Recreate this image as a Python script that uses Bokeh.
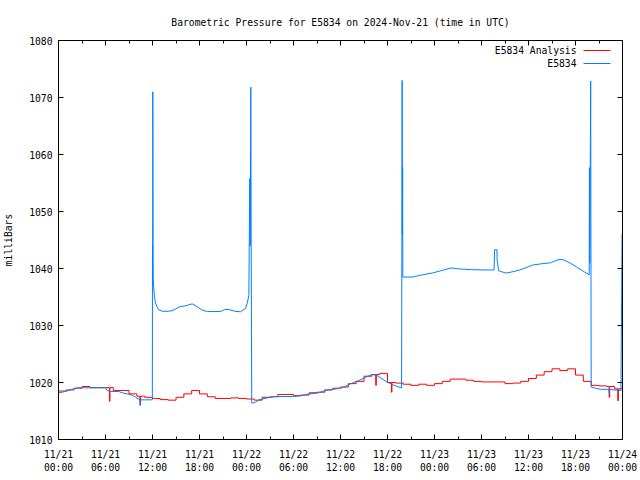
from bokeh.plotting import figure
from bokeh.models import Range1d, LinearAxis, FixedTicker, Label, BoxAnnotation
from bokeh.embed import file_html
from bokeh.resources import INLINE
import numpy as np

title_text = "Barometric Pressure for E5834 on 2024-Nov-21 (time in UTC)"
y_label = "milliBars"
series_names = ["E5834 Analysis", "E5834"]
series_colors = ["#ff0000", "#0080ff"]

x_tick_hours = [0, 6, 12, 18, 24, 30, 36, 42, 48, 54, 60, 66, 72]
x_minor_hours = [3, 9, 15, 21, 27, 33, 39, 45, 51, 57, 63, 69]
x_tick_labels = ["11/21\n00:00", "11/21\n06:00", "11/21\n12:00", "11/21\n18:00",
                 "11/22\n00:00", "11/22\n06:00", "11/22\n12:00", "11/22\n18:00",
                 "11/23\n00:00", "11/23\n06:00", "11/23\n12:00", "11/23\n18:00",
                 "11/24\n00:00"]
y_ticks = [1010, 1020, 1030, 1040, 1050, 1060, 1070, 1080]

# Analysis: hourly values (hours since 11/21 00:00 UTC)
analysis_hours = list(range(73))
analysis_mb = [1018.5, 1018.7, 1019.0, 1019.3, 1019.1, 1019.1, 1019.1, 1018.6, 1018.6, 1018.0,
               1017.6, 1017.4, 1017.2, 1017.0, 1016.9, 1017.4, 1018.0, 1018.6, 1018.0, 1017.5,
               1017.2, 1017.2, 1017.3, 1017.2, 1017.1, 1016.9, 1017.4, 1017.5, 1017.9, 1017.9,
               1017.7, 1017.8, 1018.2, 1018.3, 1018.7, 1019.0, 1019.2, 1019.8, 1020.2, 1021.1,
               1021.4, 1021.6, 1020.0, 1019.9, 1019.7, 1019.5, 1019.7, 1019.5, 1019.8, 1020.2,
               1020.6, 1020.6, 1020.4, 1020.2, 1020.1, 1020.1, 1020.1, 1019.8, 1019.9, 1020.2,
               1020.7, 1021.3, 1021.9, 1022.4, 1022.1, 1022.4, 1021.3, 1020.2, 1019.5, 1019.4,
               1019.3, 1018.9, 1018.7]
analysis_spike_hours = [6.5, 10.4, 40.5, 42.5, 70.3, 71.4]
analysis_spike_mb = [1016.7, 1016.0, 1019.5, 1018.3, 1017.4, 1016.8]

# Station observations
station_hours = [0.0, 0.47, 1.32, 1.96, 2.6, 3.87, 5.0, 6.0, 6.21, 6.64, 7.7, 8.13, 8.77, 9.4,
                 9.83, 10.17, 10.4, 10.45, 10.5, 10.6, 11.1, 11.98,
                 12.0, 12.02, 12.04, 12.08, 12.2, 12.35, 12.6, 12.8, 13.23, 14.0, 14.5, 14.94,
                 15.5, 16.2, 17.07, 17.7, 18.34, 19.0, 20.0, 20.68, 21.2, 21.75, 22.5, 23.23,
                 23.87, 24.1, 24.3, 24.42, 24.48, 24.55, 24.6, 24.67,
                 24.72, 25.15, 25.57, 26.64, 27.7, 28.77, 29.83, 30.89, 31.96, 33.02, 34.09,
                 35.15, 36.21, 37.28, 38.34, 39.4, 40.04, 40.68, 41.32, 41.96, 42.6, 43.23,
                 43.8, 43.87, 43.9, 43.93, 43.96,
                 45.2, 46.5, 47.7, 48.8, 50.1, 51.3, 52.6, 53.9, 55.6, 55.68, 55.97, 56.0,
                 56.2, 57.1, 57.9, 58.8, 59.6, 60.5, 61.5, 62.8, 63.9, 64.5, 65.4, 66.2, 66.9,
                 67.6, 67.75, 67.78, 67.82, 67.94, 68.0,
                 68.55, 69.19, 70.25, 70.3, 70.35, 71.5, 71.8, 71.95]
station_mb = [1018.2, 1018.3, 1018.6, 1018.9, 1019.07, 1019.07, 1019.07, 1019.07, 1018.6, 1018.42,
              1018.42, 1018.2, 1018.0, 1017.78, 1017.43, 1017.13, 1017.0, 1016.1, 1017.0, 1016.96,
              1016.96, 1016.96,
              1044.0, 1038.4, 1071.0, 1038.5, 1035.8, 1034.1, 1033.2, 1032.75, 1032.5, 1032.5,
              1032.6, 1032.9, 1033.3, 1033.45, 1033.8, 1033.3, 1032.7, 1032.45, 1032.45, 1032.45,
              1032.8, 1032.8, 1032.5, 1032.4, 1033.0, 1033.9, 1035.3, 1055.8, 1044.0, 1071.8,
              1044.0, 1016.4,
              1016.37, 1016.55, 1016.96, 1017.3, 1017.54, 1017.54, 1017.54, 1017.66, 1018.0,
              1018.13, 1018.6, 1018.8, 1019.07, 1019.77, 1020.35, 1021.05, 1021.4, 1021.23,
              1020.64, 1020.06, 1019.65, 1019.3,
              1019.07, 1073.0, 1046.0, 1057.8, 1038.5,
              1038.5, 1038.9, 1039.2, 1039.6, 1040.1, 1039.9, 1039.8, 1039.75, 1039.75, 1043.3,
              1043.3, 1041.4, 1039.6, 1039.2, 1039.4, 1039.7, 1040.1, 1040.6, 1040.8, 1041.0,
              1041.6, 1041.5, 1040.9, 1040.2, 1039.6, 1039.0, 1038.9, 1057.7, 1040.9, 1072.9,
              1019.2,
              1019.0, 1018.8, 1018.8, 1018.2, 1018.8, 1018.6, 1018.6, 1046.1]

FONT = "DejaVu Sans Mono"
FS = "9.7px"

# merge analysis spikes into the stepped series
ah = np.array(analysis_hours, dtype=float)
am = np.array(analysis_mb, dtype=float)
pts = list(zip(ah, am))
for t, lo in zip(analysis_spike_hours, analysis_spike_mb):
    base = am[np.searchsorted(ah, t, side="right") - 1]
    pts += [(t, lo), (t + 0.07, base)]
pts.sort(key=lambda q: q[0])
ax_x = [q[0] for q in pts]
ax_y = [q[1] for q in pts]

p = figure(width=640, height=480, output_backend="svg", toolbar_location=None,
           x_range=Range1d(0, 72), y_range=Range1d(1010, 1080),
           min_border_left=58, min_border_right=18, min_border_top=40, min_border_bottom=41,
           x_axis_location=None, y_axis_location=None, background_fill_color="white",
           border_fill_color="white")
p.xgrid.visible = False
p.ygrid.visible = False
p.outline_line_color = "black"
p.outline_line_width = 1

p.title.text = title_text
p.title.text_font = FONT
p.title.text_font_size = FS
p.title.text_font_style = "normal"
p.title.align = "center"
p.title.text_color = "black"
p.title.standoff = 26


def style(ax, show_labels, ticks):
    ax.axis_line_color = "black"
    ax.major_tick_line_color = "black"
    ax.minor_tick_line_color = "black"
    ax.major_tick_in = 5
    ax.major_tick_out = 0
    ax.minor_tick_in = 3
    ax.minor_tick_out = 0
    ax.major_label_text_font = FONT
    ax.major_label_text_font_size = FS
    ax.major_label_text_color = "black"
    ax.major_label_standoff = 6 if show_labels else 0
    if not show_labels:
        ax.major_label_overrides = {t: "" for t in ticks}


xticker = FixedTicker(ticks=x_tick_hours, minor_ticks=x_minor_hours)
yticker = FixedTicker(ticks=y_ticks, minor_ticks=[])

xb = LinearAxis(ticker=xticker)
style(xb, True, x_tick_hours)
xb.major_label_standoff = 9
xb.major_label_overrides = {h: lab for h, lab in zip(x_tick_hours, x_tick_labels)}
p.add_layout(xb, "below")

xt = LinearAxis(ticker=xticker)
style(xt, False, x_tick_hours)
p.add_layout(xt, "above")

yl = LinearAxis(ticker=yticker, axis_label=y_label)
style(yl, True, y_ticks)
yl.axis_label_text_font = FONT
yl.axis_label_text_font_size = FS
yl.axis_label_text_font_style = "normal"
yl.axis_label_text_color = "black"
yl.axis_label_standoff = 12
p.add_layout(yl, "left")

yr = LinearAxis(ticker=yticker)
style(yr, False, y_ticks)
p.add_layout(yr, "right")

p.step(ax_x, ax_y, mode="after", line_color=series_colors[0], line_width=1)
p.line(station_hours, station_mb, line_color=series_colors[1], line_width=1)

# gnuplot-style key: text right-aligned, sample line to the right
for i, (name, col) in enumerate(zip(series_names, series_colors)):
    yy = 389 - 13 * i
    p.add_layout(Label(x=518, y=yy, x_units="screen", y_units="screen", text=name,
                       text_align="right", text_baseline="middle", text_font=FONT,
                       text_font_size=FS, text_color="black"))
    p.add_layout(BoxAnnotation(left=525, right=552, bottom=yy - 0.5, top=yy + 0.5,
                               left_units="screen", right_units="screen",
                               bottom_units="screen", top_units="screen",
                               fill_color=col, fill_alpha=1, line_color=None))

open("out.html", "w").write(file_html(p, INLINE))
